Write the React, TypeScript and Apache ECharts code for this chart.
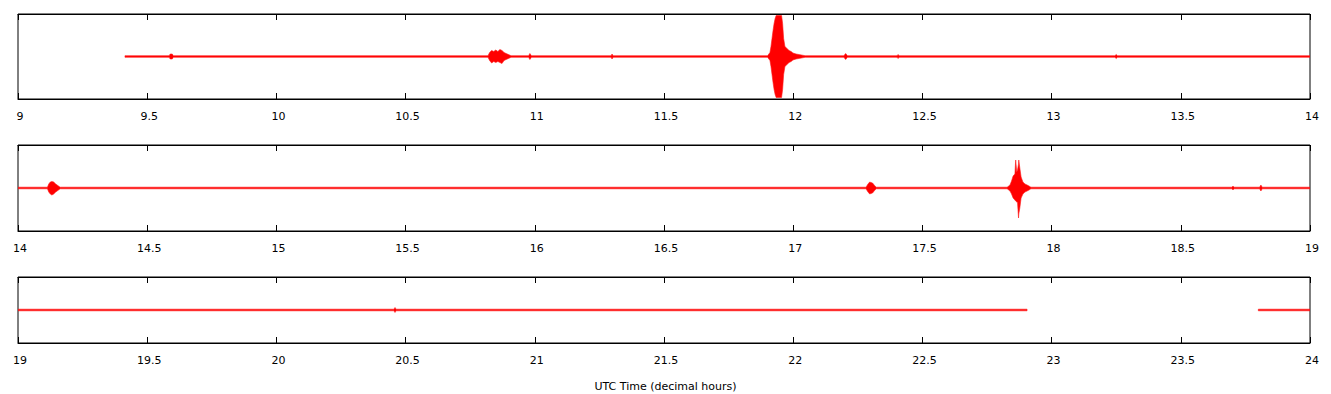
import React, { useEffect, useRef } from "react";
import * as echarts from "echarts";

// [time (decimal hours), upper amplitude, lower amplitude]
type Pt = [number, number, number];

const panelRanges: [number, number][] = [
  [9, 14],
  [14, 19],
  [19, 24],
];
const panelAmpLimits = [42.5, 43, 33];
const tickInterval = 0.5;
const axisTitle = "UTC Time (decimal hours)";

const panel1Segments: Pt[][] = [
  [
    [9.414, 0.8, 0.8],
    [9.585, 0.8, 0.8],
    [9.589, 2.5, 2.5],
    [9.597, 2.5, 2.5],
    [9.601, 0.8, 0.8],
    [10.819, 0.8, 0.8],
    [10.825, 4, 4],
    [10.833, 6, 6.5],
    [10.841, 5, 5],
    [10.849, 6.5, 6],
    [10.857, 5, 5],
    [10.865, 7, 6],
    [10.873, 6, 7],
    [10.881, 4, 4],
    [10.889, 3, 3],
    [10.898, 2, 2],
    [10.908, 0.8, 0.8],
    [10.976, 0.8, 0.8],
    [10.981, 3, 3],
    [10.987, 0.8, 0.8],
    [11.295, 0.8, 0.8],
    [11.299, 2.5, 2.5],
    [11.303, 0.8, 0.8],
    [11.9, 0.8, 0.8],
    [11.903, 1.5, 1.5],
    [11.91, 4, 4],
    [11.914, 10, 10],
    [11.918, 18, 18],
    [11.922, 26, 26],
    [11.926, 33, 33],
    [11.93, 38, 38],
    [11.934, 41, 41],
    [11.955, 41, 41],
    [11.959, 33, 33],
    [11.963, 18, 18],
    [11.968, 10, 10],
    [11.976, 8, 8],
    [11.984, 6, 6],
    [11.992, 5, 5],
    [11.999, 3.5, 3.5],
    [12.011, 2.5, 2.5],
    [12.026, 1.8, 1.8],
    [12.046, 0.8, 0.8],
    [12.196, 0.8, 0.8],
    [12.203, 3, 3],
    [12.21, 0.8, 0.8],
    [12.402, 0.8, 0.8],
    [12.406, 2, 2],
    [12.41, 0.8, 0.8],
    [13.245, 0.8, 0.8],
    [13.25, 2, 2],
    [13.255, 0.8, 0.8],
    [14, 0.8, 0.8],
  ],
];

const panel2Segments: Pt[][] = [
  [
    [14.0, 0.8, 0.8],
    [14.114, 0.8, 0.8],
    [14.119, 4, 4],
    [14.125, 6, 6],
    [14.131, 6.5, 7],
    [14.138, 6, 6],
    [14.146, 4, 4],
    [14.154, 2.5, 2.5],
    [14.163, 0.8, 0.8],
    [17.282, 0.8, 0.8],
    [17.288, 3.5, 3.5],
    [17.296, 6, 6],
    [17.301, 5.5, 5.5],
    [17.307, 5, 5],
    [17.315, 2.5, 2.5],
    [17.321, 0.8, 0.8],
    [17.828, 0.8, 0.8],
    [17.839, 3, 3],
    [17.845, 7, 6],
    [17.851, 12, 10],
    [17.858, 14, 12],
    [17.861, 28, 13],
    [17.865, 16, 14],
    [17.868, 18, 14],
    [17.872, 24, 30],
    [17.873, 28, 26],
    [17.877, 20, 20],
    [17.882, 11, 10],
    [17.889, 6, 6],
    [17.897, 4, 4],
    [17.909, 2.5, 2.5],
    [17.92, 0.8, 0.8],
    [18.698, 0.8, 0.8],
    [18.702, 2, 2],
    [18.706, 0.8, 0.8],
    [18.805, 0.8, 0.8],
    [18.81, 3, 3],
    [18.815, 0.8, 0.8],
    [19, 0.8, 0.8],
  ],
];

const panel3Segments: Pt[][] = [
  [
    [19, 0.8, 0.8],
    [20.455, 0.8, 0.8],
    [20.459, 2.5, 2.5],
    [20.463, 0.8, 0.8],
    [22.905, 0.8, 0.8],
  ],
  [
    [23.8, 0.8, 0.8],
    [24, 0.8, 0.8],
  ],
];

const allSegments = [panel1Segments, panel2Segments, panel3Segments];

const FONT = "DejaVu Sans";
const gridTops = [14, 145, 277];
const gridHeights = [85, 86, 66];

export default function App() {
  const ref = useRef<HTMLDivElement>(null);
  useEffect(() => {
    if (!ref.current) return;
    const chart = echarts.init(ref.current, null, { renderer: "svg" });

    const grids = gridTops.map((top, i) => ({
      left: 18,
      right: 21,
      top,
      height: gridHeights[i],
      show: true,
      borderColor: "#000",
      borderWidth: 1,
      backgroundColor: "transparent",
    }));

    const xAxes: any[] = [];
    panelRanges.forEach(([mn, mx], i) => {
      xAxes.push({
        type: "value",
        gridIndex: i,
        position: "bottom",
        min: mn,
        max: mx,
        interval: tickInterval,
        splitLine: { show: false },
        axisLine: { show: true, onZero: false, lineStyle: { color: "#000", width: 1 } },
        axisTick: { show: true, inside: true, length: 6, lineStyle: { color: "#000", width: 1 } },
        axisLabel: {
          show: true,
          margin: 12,
          color: "#000",
          fontFamily: FONT,
          fontSize: 11,
          padding: [0, 0, 0, 4],
          showMinLabel: true,
          showMaxLabel: true,
        },
      });
      xAxes.push({
        type: "value",
        gridIndex: i,
        position: "top",
        min: mn,
        max: mx,
        interval: tickInterval,
        splitLine: { show: false },
        axisLine: { show: true, onZero: false, lineStyle: { color: "#000", width: 1 } },
        axisTick: { show: true, inside: true, length: 6, lineStyle: { color: "#000", width: 1 } },
        axisLabel: { show: false },
      });
    });

    const yAxes = panelAmpLimits.map((lim, i) => ({
      type: "value",
      gridIndex: i,
      min: -lim,
      max: lim,
      show: false,
    }));

    const series = allSegments.map((segs, i) => ({
      type: "custom",
      xAxisIndex: i * 2,
      yAxisIndex: i,
      clip: true,
      silent: true,
      data: segs.map((s, k) => [s[0][0], 0, k]),
      encode: { x: 0, y: 1 },
      renderItem: (_params: any, api: any) => {
        const seg = segs[api.value(2)];
        const top = seg.map((p) => api.coord([p[0], p[1]]));
        const bot = seg
          .slice()
          .reverse()
          .map((p) => api.coord([p[0], -p[2]]));
        return {
          type: "polygon",
          shape: { points: top.concat(bot) },
          style: { fill: "#ff0000", stroke: "#ff1a1a", lineWidth: 0.6 },
        };
      },
    }));

    chart.setOption({
      animation: false,
      backgroundColor: "#fff",
      title: {
        text: axisTitle,
        left: "center",
        top: 376,
        textStyle: { fontFamily: FONT, fontSize: 11, fontWeight: "normal", color: "#000" },
      },
      grid: grids,
      xAxis: xAxes,
      yAxis: yAxes,
      series,
    });

    return () => chart.dispose();
  }, []);

  return (
    <div
      ref={ref}
      style={{ position: "fixed", left: 0, top: 0, width: 1331, height: 394 }}
    />
  );
}
